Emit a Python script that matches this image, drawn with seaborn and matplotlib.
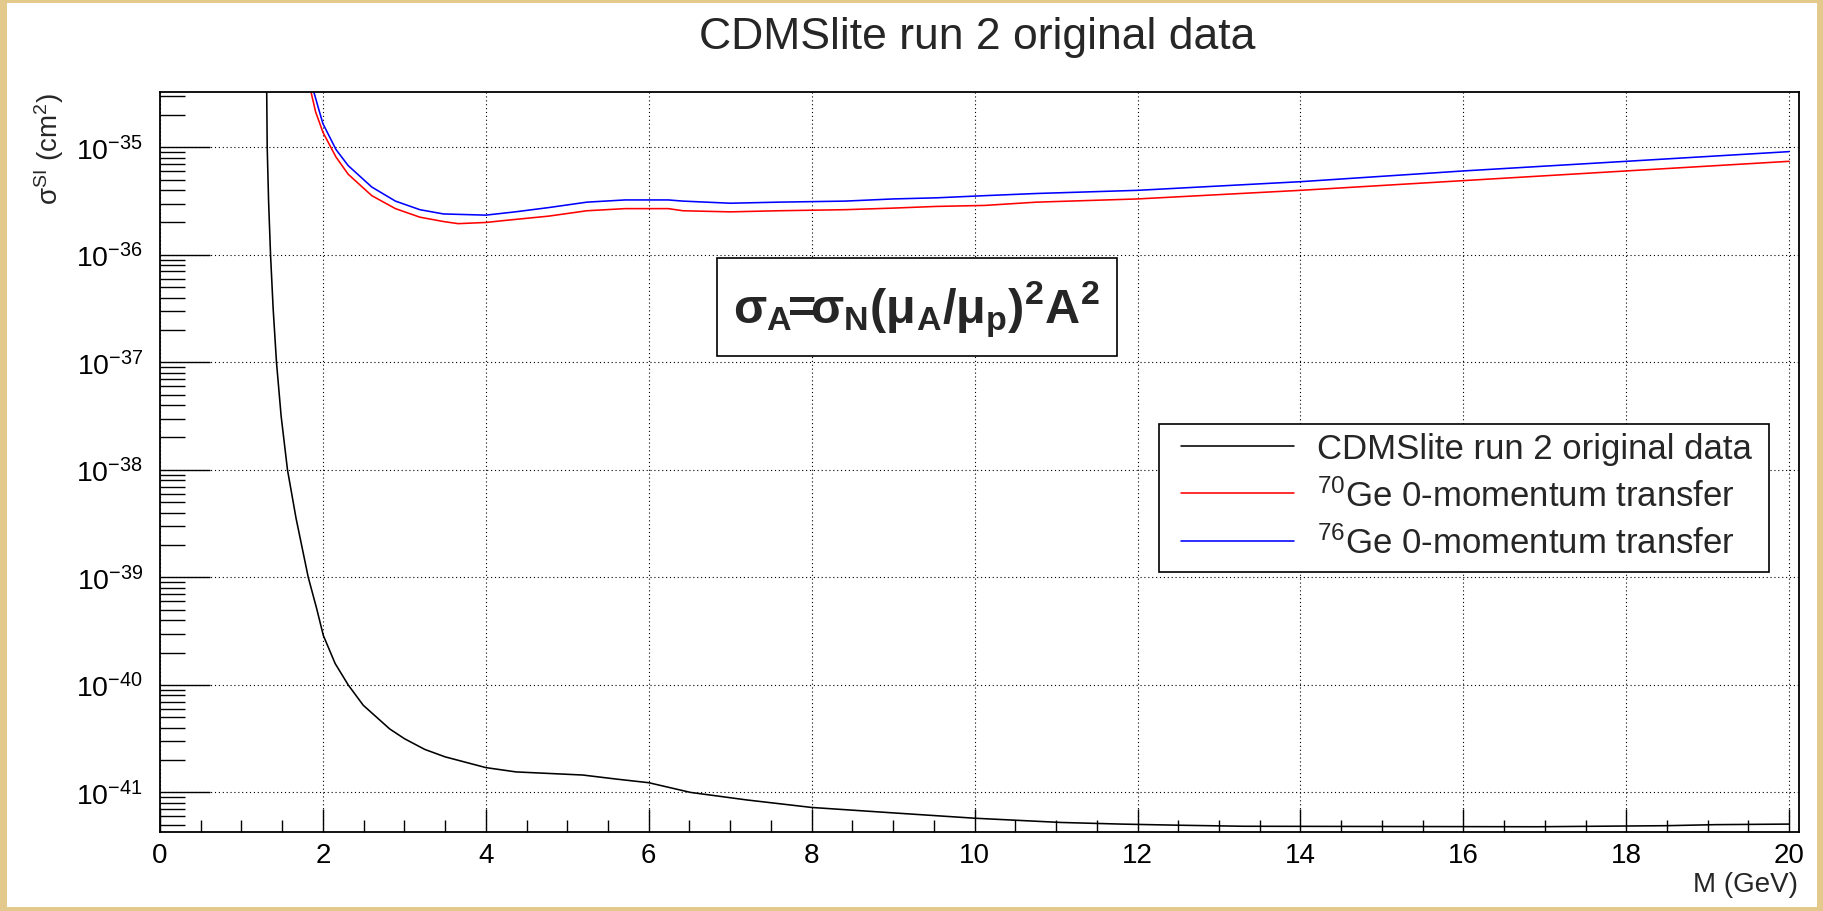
import numpy as np
import pandas as pd
import matplotlib
matplotlib.use("Agg")
import matplotlib.pyplot as plt
import seaborn as sns
from matplotlib.ticker import FixedLocator, MultipleLocator, NullFormatter, LogFormatterMathtext, LogLocator
from matplotlib.patches import Rectangle

# ---------------- data ----------------
mass_cdms = [1.31, 1.316, 1.333, 1.357, 1.389, 1.43, 1.487, 1.565, 1.67, 1.82,
             1.923, 2.005, 2.15, 2.31, 2.495, 2.82, 3.0, 3.25, 3.5, 4.0, 4.37, 5.19, 5.6,
             6.0, 6.51, 7.2, 8.0, 8.98, 10.0, 11.06, 11.8, 12.5, 13.3, 16.9, 18.5, 19.1, 20.0]
sigma_cdms = [3.24e-35, 1.0e-35, 3.16e-36, 1.0e-36, 3.16e-37, 1.0e-37, 3.16e-38, 1.0e-38,
              3.55e-39, 1.0e-39, 5.13e-40, 2.88e-40, 1.58e-40, 1.0e-40, 6.46e-41, 3.89e-41,
              3.16e-41, 2.51e-41, 2.14e-41, 1.70e-41, 1.55e-41, 1.45e-41, 1.33e-41, 1.23e-41,
              1.0e-41, 8.51e-42, 7.24e-42, 6.46e-42, 5.75e-42, 5.25e-42, 5.07e-42, 4.95e-42,
              4.84e-42, 4.79e-42, 4.90e-42, 5.01e-42, 5.07e-42]

mass_ge70 = [1.855, 1.91, 2.0, 2.16, 2.31, 2.60, 2.89, 3.19, 3.48, 3.66, 4.0, 4.24, 4.77,
             5.24, 5.71, 6.24, 6.42, 7.0, 7.59, 8.41, 9.0, 9.53, 10.12, 10.76, 12.0, 14.0,
             16.0, 18.0, 20.0]
sigma_ge70 = [3.24e-35, 2.14e-35, 1.38e-35, 8.13e-36, 5.62e-36, 3.55e-36, 2.69e-36, 2.24e-36,
              2.04e-36, 1.95e-36, 2.00e-36, 2.09e-36, 2.29e-36, 2.57e-36, 2.69e-36, 2.69e-36,
              2.57e-36, 2.51e-36, 2.57e-36, 2.63e-36, 2.72e-36, 2.82e-36, 2.88e-36, 3.09e-36,
              3.31e-36, 3.98e-36, 4.90e-36, 6.03e-36, 7.41e-36]

mass_ge76 = [1.89, 1.95, 2.0, 2.16, 2.31, 2.60, 2.89, 3.19, 3.48, 4.0, 4.36, 4.77, 5.24,
             5.71, 6.24, 6.42, 7.0, 7.59, 8.41, 9.0, 9.53, 10.12, 10.76, 12.0, 14.0, 16.0,
             18.0, 20.0]
sigma_ge76 = [3.24e-35, 2.24e-35, 1.66e-35, 9.55e-36, 6.76e-36, 4.27e-36, 3.16e-36, 2.63e-36,
              2.40e-36, 2.34e-36, 2.51e-36, 2.75e-36, 3.09e-36, 3.24e-36, 3.24e-36, 3.16e-36,
              3.02e-36, 3.09e-36, 3.16e-36, 3.31e-36, 3.39e-36, 3.55e-36, 3.72e-36, 3.98e-36,
              4.79e-36, 6.03e-36, 7.41e-36, 9.12e-36]

series_labels = ["CDMSlite run 2 original data",
                 r"$^{70}$Ge 0-momentum transfer",
                 r"$^{76}$Ge 0-momentum transfer"]
series_colors = ["black", "red", "blue"]
title_text = "CDMSlite run 2 original data"
xlabel_text = "M (GeV)"
ylabel_text = r"σ$^{\mathrm{SI}}$ (cm$^{2}$)"
formula_text = r"$\mathbf{σ_{A}\!\!=\!\!σ_{N}(μ_{A}/μ_{p})^{2}A^{2}}$"
x_tick_values = [0, 2, 4, 6, 8, 10, 12, 14, 16, 18, 20]
y_tick_values = [1e-41, 1e-40, 1e-39, 1e-38, 1e-37, 1e-36, 1e-35]

# ---------------- style ----------------
sns.set_theme(style="white")
plt.rcParams['font.family'] = ['Liberation Sans', 'DejaVu Sans']
plt.rcParams['mathtext.fontset'] = 'custom'
plt.rcParams['mathtext.rm'] = 'Liberation Sans'
plt.rcParams['mathtext.it'] = 'Liberation Sans:italic'
plt.rcParams['mathtext.bf'] = 'Liberation Sans:bold'
plt.rcParams['mathtext.sf'] = 'Liberation Sans'

W, H = 1824, 912
fig = plt.figure(figsize=(W / 100, H / 100), dpi=100)
fig.patch.set_facecolor('#e3c98b')
fig.add_artist(Rectangle((7 / W, 4 / H), (W - 14) / W, (H - 8) / H,
                         transform=fig.transFigure, facecolor='white',
                         edgecolor='none', zorder=-1))

ax = fig.add_axes([160 / W, 1 - 833 / H, (1799 - 160) / W, (833 - 93) / H])
ax.set_facecolor('white')

frames = [
    pd.DataFrame({"M": mass_cdms, "sigma": sigma_cdms}),
    pd.DataFrame({"M": mass_ge70, "sigma": sigma_ge70}),
    pd.DataFrame({"M": mass_ge76, "sigma": sigma_ge76}),
]
for df, lab, col in zip(frames, series_labels, series_colors):
    sns.lineplot(data=df, x="M", y="sigma", ax=ax, color=col, lw=1.15,
                 label=lab, estimator=None, sort=False)

ax.set_yscale('log')
ax.set_xlim(0, 20.12)
ax.set_ylim(4.28e-42, 3.27e-35)
ax.set_xlabel("")
ax.set_ylabel("")

ax.set_xticks(x_tick_values)
ax.set_xticklabels([str(v) for v in x_tick_values])
ax.xaxis.set_minor_locator(MultipleLocator(0.5))
ax.yaxis.set_major_locator(FixedLocator(y_tick_values))
ax.yaxis.set_major_formatter(LogFormatterMathtext())
ax.yaxis.set_minor_locator(LogLocator(base=10, subs=np.arange(2, 10), numticks=20))
ax.yaxis.set_minor_formatter(NullFormatter())

ax.tick_params(axis='both', which='both', direction='in', top=False, right=False,
               colors='black', width=1.0)
ax.tick_params(axis='y', which='major', length=36, labelsize=20.5, pad=12, left=True)
ax.tick_params(axis='y', which='minor', length=18, left=True)
ax.tick_params(axis='x', which='major', length=16.5, labelsize=20, pad=7, bottom=True)
ax.tick_params(axis='x', which='minor', length=8.6, bottom=True)

ax.set_axisbelow(True)
ax.grid(True, which='major', color='black', linestyle=(0, (1, 2.5)), linewidth=0.8)
ax.grid(False, which='minor')
for sp in ax.spines.values():
    sp.set_color('black')
    sp.set_linewidth(1.3)
    sp.set_visible(True)

handles, labels = ax.get_legend_handles_labels()
if ax.get_legend() is not None:
    ax.get_legend().remove()

# legend box
fig.add_artist(Rectangle((1158.6 / W, 1 - 573.3 / H), (1769 - 1158.6) / W, (573.3 - 425) / H,
                         transform=fig.transFigure, facecolor='white',
                         edgecolor='black', linewidth=1.2, zorder=1))
fig.legend(handles, labels, loc='center left', bbox_to_anchor=(1181 / W, 1 - 497 / H),
           frameon=False, fontsize=25, handlelength=3.26, handletextpad=0.66,
           labelspacing=0.38, borderpad=0, borderaxespad=0)

# formula box
fig.add_artist(Rectangle((717.3 / W, 1 - 357.3 / H), (1116.7 - 717.3) / W, (357.3 - 259.3) / H,
                         transform=fig.transFigure, facecolor='white',
                         edgecolor='black', linewidth=1.2, zorder=1))
fig.text(916 / W, 1 - 310 / H, formula_text, ha='center', va='center', fontsize=35, zorder=3)

fig.text(977 / W, 1 - 37 / H, title_text, ha='center', va='center', fontsize=32)
fig.text(1798 / W, 1 - 885 / H, xlabel_text, ha='right', va='center', fontsize=20)
fig.text(49 / W, 1 - 93 / H, ylabel_text, rotation=90, ha='center', va='top', fontsize=20)

fig.savefig("out.png", dpi=100, facecolor=fig.get_facecolor())
